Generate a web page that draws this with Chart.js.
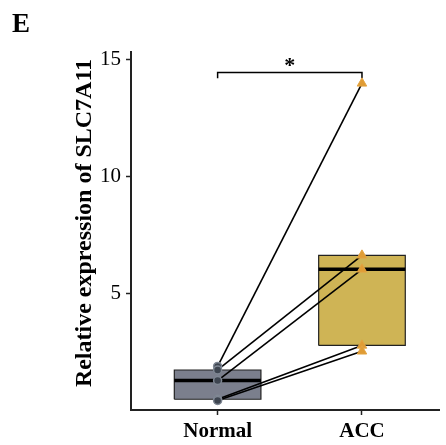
<!DOCTYPE html>
<html>
<head>
<meta charset="utf-8">
<script src="https://cdn.jsdelivr.net/npm/chart.js@4/dist/chart.umd.min.js"></script>
<style>
  html, body { margin: 0; padding: 0; background: #fff; }
  #wrap { width: 446px; height: 445px; }
</style>
</head>
<body>
<div id="wrap"><canvas id="chart" width="446" height="445"></canvas></div>
<script>
// data (paired samples, same order in both groups)
const groups = ['Normal', 'ACC'];
const normalValues = [1.9, 1.75, 1.3, 0.5, 0.45];
const accValues = [14.0, 6.65, 6.05, 2.8, 2.55];
const yTicks = [5, 10, 15];
const sigLabel = '*';
const yTitle = 'Relative expression of SLC7A11';

const serif = '"Liberation Serif", "Times New Roman", serif';

// R type-7 quantile
function quantile(arr, p) {
    const s = arr.slice().sort((a, b) => a - b);
    const h = (s.length - 1) * p;
    const lo = Math.floor(h);
    return s[lo] + (h - lo) * ((s[lo + 1] !== undefined ? s[lo + 1] : s[lo]) - s[lo]);
}

function boxDatasets(values, xc, fill) {
    const q1 = quantile(values, 0.25);
    const med = quantile(values, 0.5);
    const q3 = quantile(values, 0.75);
    const iqr = q3 - q1;
    const inRange = values.filter(v => v >= q1 - 1.5 * iqr && v <= q3 + 1.5 * iqr);
    const lo = Math.min(...inRange), hi = Math.max(...inRange);
    const hw = 0.3;
    return [
        { type: 'line', data: [{x: xc, y: q3}, {x: xc, y: hi}], borderColor: '#222', borderWidth: 1.2, pointRadius: 0, order: 4 },
        { type: 'line', data: [{x: xc, y: q1}, {x: xc, y: lo}], borderColor: '#222', borderWidth: 1.2, pointRadius: 0, order: 4 },
        {
            type: 'line',
            data: [{x: xc - hw, y: q1}, {x: xc + hw, y: q1}, {x: xc + hw, y: q3}, {x: xc - hw, y: q3}, {x: xc - hw, y: q1}],
            borderColor: '#222', borderWidth: 1.2, backgroundColor: fill, fill: 'shape', pointRadius: 0, order: 3
        },
        { type: 'line', data: [{x: xc - hw, y: med}, {x: xc + hw, y: med}], borderColor: '#000', borderWidth: 3.5, pointRadius: 0, order: 2 }
    ];
}

const datasets = [];
datasets.push(...boxDatasets(normalValues, 1, '#7b7f8d'));
datasets.push(...boxDatasets(accValues, 2, '#cfb455'));

// paired lines
normalValues.forEach((v, i) => {
    datasets.push({
        type: 'line',
        data: [{x: 1, y: v}, {x: 2, y: accValues[i]}],
        borderColor: '#000', borderWidth: 1.6, pointRadius: 0, order: 1
    });
});

// points
datasets.push({
    type: 'scatter',
    data: normalValues.map(v => ({x: 1, y: v})),
    pointStyle: 'circle', pointRadius: 4,
    backgroundColor: '#3e4550', borderColor: '#7f8793', borderWidth: 1.5, order: 0
});
datasets.push({
    type: 'scatter',
    data: accValues.map(v => ({x: 2, y: v})),
    pointStyle: 'triangle', pointRadius: 5.5,
    backgroundColor: '#e09c35', borderColor: '#e3a443', borderWidth: 1, order: 0
});

// significance bracket
const bracketTop = 14.46, bracketFoot = 14.22;
datasets.push({
    type: 'line',
    data: [{x: 1, y: bracketFoot}, {x: 1, y: bracketTop}, {x: 2, y: bracketTop}, {x: 2, y: bracketFoot}],
    borderColor: '#000', borderWidth: 1.5, pointRadius: 0, order: 1
});

const textPlugin = {
    id: 'extraText',
    afterDraw(chart) {
        const ctx = chart.ctx;
        const xs = chart.scales.x, ys = chart.scales.y;
        ctx.save();
        ctx.fillStyle = '#000';
        ctx.font = 'bold 27px ' + serif;
        ctx.textAlign = 'left';
        ctx.textBaseline = 'alphabetic';
        ctx.fillText('E', 12, 32);
        ctx.font = 'bold 22px ' + serif;
        ctx.textAlign = 'center';
        ctx.fillText(sigLabel, xs.getPixelForValue(1.5), ys.getPixelForValue(bracketTop) - 1);
        // y axis title
        ctx.translate(85, 223);
        ctx.rotate(-Math.PI / 2);
        ctx.font = 'bold 24px ' + serif;
        ctx.textBaseline = 'middle';
        ctx.fillText(yTitle, 0, 0);
        ctx.restore();
    }
};

new Chart(document.getElementById('chart'), {
    type: 'scatter',
    data: { datasets: datasets },
    options: {
        responsive: false,
        animation: false,
        layout: { padding: { top: 52, left: 0, right: 0, bottom: 0 } },
        plugins: { legend: { display: false }, tooltip: { enabled: false } },
        scales: {
            x: {
                type: 'linear',
                min: 0.4,
                max: 2.537,
                afterBuildTicks: axis => { axis.ticks = groups.map((g, i) => ({ value: i + 1 })); },
                afterFit: axis => { axis.height = 35; },
                ticks: {
                    callback: v => groups[v - 1] || '',
                    color: '#000',
                    padding: 4,
                    font: { family: serif, size: 21, weight: 'bold' }
                },
                grid: { drawOnChartArea: false, drawTicks: true, tickLength: 5, color: '#222', tickWidth: 1.5 },
                border: { display: true, color: '#222', width: 2 }
            },
            y: {
                type: 'linear',
                min: 0.04,
                max: 15.34,
                afterBuildTicks: axis => { axis.ticks = yTicks.map(v => ({ value: v })); },
                afterFit: axis => { axis.width = 131; },
                ticks: {
                    color: '#000',
                    padding: 5,
                    font: { family: serif, size: 21 }
                },
                grid: { drawOnChartArea: false, drawTicks: true, tickLength: 5, color: '#222', tickWidth: 1.5 },
                border: { display: true, color: '#222', width: 2 }
            }
        }
    },
    plugins: [textPlugin]
});
</script>
</body>
</html>
